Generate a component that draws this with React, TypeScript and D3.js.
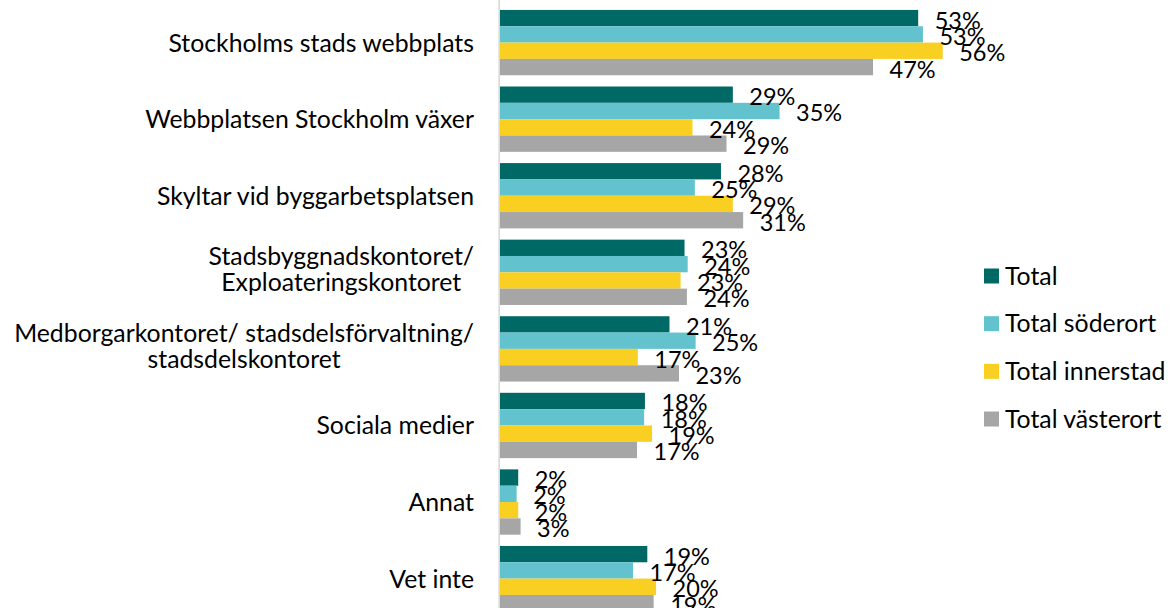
import React, { useEffect, useRef } from "react";
import * as d3 from "d3";

const categories = [
  "Stockholms stads webbplats",
  "Webbplatsen Stockholm växer",
  "Skyltar vid byggarbetsplatsen",
  "Stadsbyggnadskontoret/\nExploateringskontoret",
  "Medborgarkontoret/ stadsdelsförvaltning/\nstadsdelskontoret",
  "Sociala medier",
  "Annat",
  "Vet inte",
];

const seriesNames = ["Total", "Total söderort", "Total innerstad", "Total västerort"];
const seriesColors = ["#006966", "#62C3CF", "#F9CF22", "#A6A6A6"];

// percent values
const total = [52.8, 29.4, 27.9, 23.3, 21.4, 18.3, 2.3, 18.6];
const soderort = [53.4, 35.3, 24.6, 23.7, 24.7, 18.2, 2.1, 16.8];
const innerstad = [55.9, 24.3, 29.4, 22.8, 17.4, 19.2, 2.3, 19.7];
const vasterort = [47.1, 28.6, 30.7, 23.6, 22.6, 17.3, 2.6, 19.4];

const W = 1170;
const H = 608;
const FONT = "Lato, 'Open Sans', sans-serif";
const FS = 24.8; // category + legend
const FS_LBL = 23.5; // data labels

export default function App() {
  const ref = useRef<SVGSVGElement>(null);

  useEffect(() => {
    const svg = d3.select(ref.current);
    svg.selectAll("*").remove();

    const values = [total, soderort, innerstad, vasterort];
    const rows = categories.map((c, i) => ({
      cat: c,
      vals: seriesNames.map((s, j) => ({ key: s, value: values[j][i], color: seriesColors[j] })),
    }));

    const x = d3.scaleLinear().domain([0, 60]).range([500, 500 + 60 * 7.92]);
    const y = d3
      .scaleBand()
      .domain(categories)
      .range([4.3, 616.9])
      .paddingInner(0.147)
      .paddingOuter(0.0735);
    const ySub = d3.scaleBand().domain(seriesNames).range([0, y.bandwidth()]);

    const g = svg.append("g");

    const group = g
      .selectAll("g.grp")
      .data(rows)
      .join("g")
      .attr("class", "grp")
      .attr("transform", (d) => `translate(0,${y(d.cat)})`);

    group
      .selectAll("rect")
      .data((d) => d.vals)
      .join("rect")
      .attr("x", x(0))
      .attr("y", (d) => ySub(d.key)!)
      .attr("width", (d) => x(d.value) - x(0))
      .attr("height", ySub.bandwidth())
      .attr("fill", (d) => d.color);

    group
      .selectAll("text.lbl")
      .data((d) => d.vals)
      .join("text")
      .attr("class", "lbl")
      .attr("x", (d) => x(d.value) + 16.5)
      .attr("y", (d) => ySub(d.key)! + ySub.bandwidth() / 2 + 10.5)
      .style("font-family", FONT)
      .style("font-size", FS_LBL + "px")
      .attr("fill", "#000")
      .text((d) => Math.round(d.value) + "%");

    // axis line
    g.append("line")
      .attr("x1", 499.2)
      .attr("x2", 499.2)
      .attr("y1", 0)
      .attr("y2", H)
      .attr("stroke", "#D9D9D9")
      .attr("stroke-width", 1.6);

    // category labels, multi-line ones centred on their widest line
    const right = 474;
    categories.forEach((c) => {
      const lines = c.split("\n");
      const cy = y(c)! + y.bandwidth() / 2;
      const t = g
        .append("text")
        .style("font-family", FONT)
        .style("font-size", FS + "px")
        .attr("fill", "#000");
      if (lines.length === 1) {
        t.attr("x", right).attr("y", cy + 9).attr("text-anchor", "end").text(c);
      } else {
        const spans = t
          .selectAll("tspan")
          .data(lines)
          .join("tspan")
          .attr("y", (_, i) => cy + 6 + (i - 0.5) * 26)
          .text((d) => d);
        let maxW = 0;
        spans.each(function () {
          maxW = Math.max(maxW, (this as SVGTSpanElement).getComputedTextLength());
        });
        spans.attr("x", right - maxW / 2).attr("text-anchor", "middle");
      }
    });

    // legend
    const ly = d3.scalePoint().domain(seriesNames).range([276, 419]);
    const leg = g
      .selectAll("g.leg")
      .data(seriesNames)
      .join("g")
      .attr("class", "leg")
      .attr("transform", (d) => `translate(984,${ly(d)})`);
    leg
      .append("rect")
      .attr("x", 0)
      .attr("y", -7.5)
      .attr("width", 15)
      .attr("height", 15)
      .attr("fill", (_, i) => seriesColors[i]);
    leg
      .append("text")
      .attr("x", 21)
      .attr("y", 8.5)
      .style("font-family", FONT)
      .style("font-size", FS + "px")
      .attr("fill", "#000")
      .text((d) => d);
  }, []);

  return (
    <svg
      ref={ref}
      width={W}
      height={H}
      style={{ position: "absolute", left: 0, top: 0, display: "block", background: "#fff", overflow: "hidden" }}
    />
  );
}
